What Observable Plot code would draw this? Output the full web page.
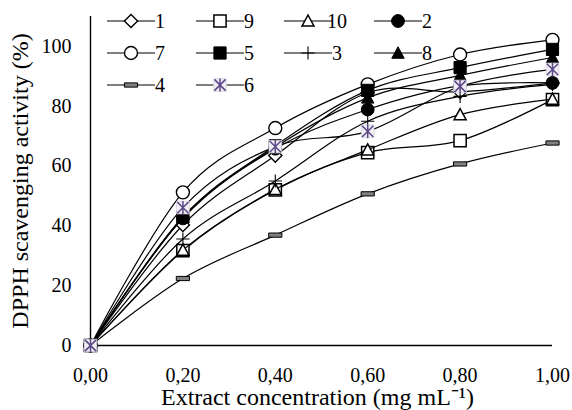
<!DOCTYPE html>
<html><head><meta charset="utf-8">
<script src="https://cdn.jsdelivr.net/npm/d3@7"></script>
<script src="https://cdn.jsdelivr.net/npm/@observablehq/plot@0.6"></script>
<style>body{margin:0;background:#fff} svg{display:block} svg text{font-family:"Liberation Serif" !important}</style>
</head><body><div id="chart"></div>
<script>
// ---- data ----
const concentrations = [0, 0.2, 0.4, 0.6, 0.8, 1.0];
const xTicks = [0, 0.2, 0.4, 0.6, 0.8, 1.0];
const xTickLabels = ["0,00", "0,20", "0,40", "0,60", "0,80", "1,00"];
const yTicks = [0, 20, 40, 60, 80, 100];
const seriesNames = ["1", "9", "10", "2", "7", "5", "3", "8", "4", "6"];
const s1  = [0, 40.3, 63.5, 84.5, 84.8, 87.8];
const s9  = [0, 31.7, 52.0, 64.5, 68.5, 82.2];
const s10 = [0, 31.9, 52.2, 65.4, 77.2, 82.4];
const s2  = [0, 42.5, 65.8, 78.9, 86.8, 87.8];
const s7  = [0, 51.2, 72.7, 87.3, 97.3, 102.2];
const s5  = [0, 43.0, 66.8, 85.3, 92.9, 99.0];
const s3  = [0, 35.6, 55.0, 75.0, 83.3, 87.3];
const s8  = [0, 42.8, 66.3, 82.8, 90.3, 96.3];
const s4  = [0, 22.4, 36.9, 50.7, 60.7, 67.7];
const s6  = [0, 46.1, 66.5, 71.6, 86.6, 92.3];
const seriesValues = [s1, s9, s10, s2, s7, s5, s3, s8, s4, s6];

// ---- symbols ----
function sym(f) { return {draw(c, size) { f(c, Math.sqrt(size / Math.PI)); }}; }
const diamond = sym((c, r) => { c.moveTo(0, -r); c.lineTo(r, 0); c.lineTo(0, r); c.lineTo(-r, 0); c.closePath(); });
const square = sym((c, r) => { c.moveTo(-r, -r); c.lineTo(r, -r); c.lineTo(r, r); c.lineTo(-r, r); c.closePath(); });
const circle = sym((c, r) => { c.moveTo(r, 0); c.arc(0, 0, r, 0, 2 * Math.PI); c.closePath(); });
const triangle = sym((c, r) => { c.moveTo(0, -r); c.lineTo(r, r * 0.85); c.lineTo(-r, r * 0.85); c.closePath(); });
const plus = sym((c, r) => { c.moveTo(-r, 0); c.lineTo(r, 0); c.moveTo(0, -r); c.lineTo(0, r); });
const dash = sym((c, r) => { const h = r * 0.32; c.moveTo(-r, -h); c.lineTo(r, -h); c.lineTo(r, h); c.lineTo(-r, h); c.closePath(); });
const asterisk = sym((c, r) => { const k = r * 0.85; c.moveTo(0, -r); c.lineTo(0, r); c.moveTo(-k, -k); c.lineTo(k, k); c.moveTo(k, -k); c.lineTo(-k, k); });

const purple = "#5a4785";
const styles = {
  "1":  [{symbol: diamond, r: 6.6, fill: "white", stroke: "black", strokeWidth: 1.4}],
  "9":  [{symbol: square, r: 6.1, fill: "white", stroke: "black", strokeWidth: 1.5}],
  "10": [{symbol: triangle, r: 6.0, fill: "white", stroke: "black", strokeWidth: 1.5}],
  "2":  [{symbol: circle, r: 6.4, fill: "black", stroke: "black", strokeWidth: 1}],
  "7":  [{symbol: circle, r: 6.5, fill: "white", stroke: "black", strokeWidth: 1.4}],
  "5":  [{symbol: square, r: 6.1, fill: "black", stroke: "black", strokeWidth: 1}],
  "3":  [{symbol: plus, r: 6.6, fill: "none", stroke: "black", strokeWidth: 1.1}],
  "8":  [{symbol: triangle, r: 6.2, fill: "black", stroke: "black", strokeWidth: 1}],
  "4":  [{symbol: dash, r: 6.6, fill: "#808080", stroke: "black", strokeWidth: 1}],
  "6":  [{symbol: square, r: 6.3, fill: "#f1eef5", stroke: "#d6d0e0", strokeWidth: 0.8},
         {symbol: asterisk, r: 6.6, fill: "none", stroke: purple, strokeWidth: 1.5}]
};

const font = "Liberation Serif";
const marks = [
  Plot.ruleY([0], {stroke: "black", strokeWidth: 1.4}),
  Plot.ruleX([0], {stroke: "black", strokeWidth: 1.4}),
  Plot.axisY({ticks: yTicks, tickSize: 0, tickPadding: 19, tickFormat: d => String(d), fontSize: 20, label: null}),
  Plot.axisX({ticks: xTicks, tickSize: 0, tickPadding: 22, tickFormat: (d, i) => xTickLabels[i], fontSize: 20, label: null}),
  Plot.text(["DPPH scavenging activity (%)"], {frameAnchor: "left", rotate: -90, dx: -70, fontSize: 24, textAnchor: "middle", lineAnchor: "middle", fill: "black"}),
  Plot.text(["Extract concentration (mg mL\u207B\u00B9)"], {frameAnchor: "bottom", dy: 52, dx: -4, fontSize: 24, textAnchor: "middle", lineAnchor: "middle", fill: "black"})
];
seriesNames.forEach((name, i) => {
  const data = concentrations.map((x, j) => ({x, y: seriesValues[i][j]}));
  marks.push(Plot.line(data, {x: "x", y: "y", curve: "cardinal", stroke: "black", strokeWidth: 1.2}));
  for (const st of styles[name]) marks.push(Plot.dot(data, {x: "x", y: "y", ...st}));
});

const chart = Plot.plot({
  width: 572, height: 410,
  marginLeft: 90, marginRight: 20, marginTop: 16, marginBottom: 65,
  style: {fontFamily: font, color: "black", background: "white"},
  x: {domain: [0, 1], label: null},
  y: {domain: [0, 110], label: null},
  marks
});
document.getElementById("chart").appendChild(chart);

// ---- legend (inside the plot area, top) ----
const svg = d3.select(chart);
const legendCols = [131, 220, 308, 398];
const legendRows = [21, 53, 85];
const lg = svg.append("g").attr("font-family", font).attr("font-size", 20);
seriesNames.forEach((name, i) => {
  const cx = legendCols[i % 4], cy = legendRows[Math.floor(i / 4)];
  const g = lg.append("g").attr("transform", `translate(${cx},${cy})`);
  g.append("line").attr("x1", -24).attr("x2", 24).attr("stroke", "black").attr("stroke-width", 1.2);
  for (const st of styles[name]) {
    g.append("path").attr("d", d3.symbol(st.symbol, Math.PI * st.r * st.r)())
      .attr("fill", st.fill).attr("stroke", st.stroke).attr("stroke-width", st.strokeWidth);
  }
  g.append("text").attr("x", 29).attr("dy", "0.34em").attr("fill", "black").text(name);
});
</script></body></html>
